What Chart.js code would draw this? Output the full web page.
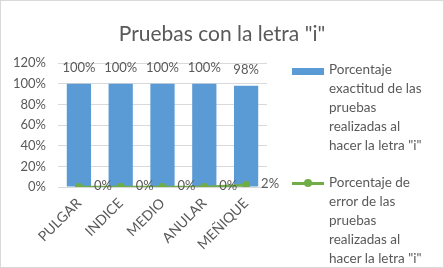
<!DOCTYPE html>
<html>
<head>
<meta charset="utf-8">
<script src="https://cdn.jsdelivr.net/npm/chart.js@4"></script>
<style>
  body { margin: 0; background: #fff; }
  #wrap { position: relative; width: 444px; height: 268px; box-sizing: border-box; border: 1px solid #d9d9d9; }
  canvas { position: absolute; left: 0; top: 0; }
  #title { position: absolute; left: 0; top: 19px; width: 442px; text-align: center; font-family: Lato, sans-serif; font-size: 21px; color: #595959; line-height: 26px; }
  #legend { position: absolute; left: 291px; top: 59px; font-family: Lato, sans-serif; font-size: 13.5px; color: #595959; line-height: 19px; }
  .item { position: relative; padding-left: 37px; white-space: pre-line; margin-bottom: 18px; }
  .sw { position: absolute; left: 0; top: 8px; width: 32px; height: 7px; }
  .ln { position: absolute; left: 0; top: 9px; width: 32px; height: 3px; }
  .dot { position: absolute; left: 12px; top: 6px; width: 8px; height: 8px; border-radius: 50%; }
</style>
</head>
<body>
<div id="wrap">
  <canvas id="myChart" width="442" height="266"></canvas>
  <div id="title">Pruebas con la letra "i"</div>
  <div id="legend"></div>
</div>
<script>
const categories = ['PULGAR', 'INDICE', 'MEDIO', 'ANULAR', 'MEÑIQUE'];
const exactitud = [100, 100, 100, 100, 98];
const error = [0, 0, 0, 0, 2];
const labelExactitud = 'Porcentaje\nexactitud  de las\npruebas\nrealizadas al\nhacer la letra "i"';
const labelError = 'Porcentaje de\nerror de las\npruebas\nrealizadas al\nhacer la letra "i"';

const grey = '#595959';
const blue = '#5B9BD5';
const green = '#70AD47';

// etiquetas de valor sobre barras y a la derecha de los puntos
const valueLabels = {
    id: 'valueLabels',
    afterDatasetsDraw(chart) {
        const ctx = chart.ctx;
        ctx.save();
        ctx.font = '13px Lato, sans-serif';
        ctx.fillStyle = grey;
        chart.data.datasets.forEach((ds, i) => {
            const meta = chart.getDatasetMeta(i);
            meta.data.forEach((el, j) => {
                const txt = ds.data[j] + '%';
                if (ds.type === 'line') {
                    ctx.textAlign = 'left';
                    ctx.textBaseline = 'middle';
                    ctx.fillText(txt, el.x + 15, el.y - 1);
                } else {
                    ctx.textAlign = 'center';
                    ctx.textBaseline = 'bottom';
                    ctx.fillText(txt, el.x, el.y - 9);
                }
            });
        });
        ctx.restore();
    }
};

const ctx = document.getElementById('myChart');
const chart = new Chart(ctx, {
    data: {
        labels: categories,
        datasets: [{
            type: 'line',
            label: labelError,
            data: error,
            borderColor: green,
            backgroundColor: green,
            borderWidth: 2.5,
            pointRadius: 4,
            pointBackgroundColor: green,
            pointBorderWidth: 0,
            order: 0
        }, {
            type: 'bar',
            label: labelExactitud,
            data: exactitud,
            backgroundColor: blue,
            categoryPercentage: 1,
            barPercentage: 0.58,
            order: 1
        }]
    },
    options: {
        responsive: false,
        animation: false,
        layout: { padding: { left: 0, right: 176, top: 62, bottom: 0 } },
        plugins: {
            legend: { display: false },
            tooltip: { enabled: false }
        },
        scales: {
            x: {
                grid: { display: false, drawTicks: false },
                border: { color: '#d9d9d9' },
                ticks: {
                    color: grey,
                    font: { family: 'Lato, sans-serif', size: 14 },
                    maxRotation: 45,
                    minRotation: 45,
                    padding: 8
                },
                afterFit: s => { s.height = 80; }
            },
            y: {
                min: 0,
                max: 120,
                grid: { color: '#d9d9d9', drawTicks: false },
                border: { display: false },
                ticks: {
                    stepSize: 20,
                    color: grey,
                    padding: 12,
                    font: { family: 'Lato, sans-serif', size: 13 },
                    callback: v => v + '%'
                },
                afterFit: s => { s.width = 57; }
            }
        }
    },
    plugins: [valueLabels]
});

// leyenda HTML a la derecha
const legend = document.getElementById('legend');
[chart.data.datasets[1], chart.data.datasets[0]].forEach(ds => {
    const item = document.createElement('div');
    item.className = 'item';
    if (ds.type === 'bar') {
        item.innerHTML = '<span class="sw" style="background:' + ds.backgroundColor + '"></span>';
    } else {
        item.innerHTML = '<span class="ln" style="background:' + ds.borderColor + '"></span><span class="dot" style="background:' + ds.borderColor + '"></span>';
    }
    item.appendChild(document.createTextNode(ds.label));
    legend.appendChild(item);
});
</script>
</body>
</html>
